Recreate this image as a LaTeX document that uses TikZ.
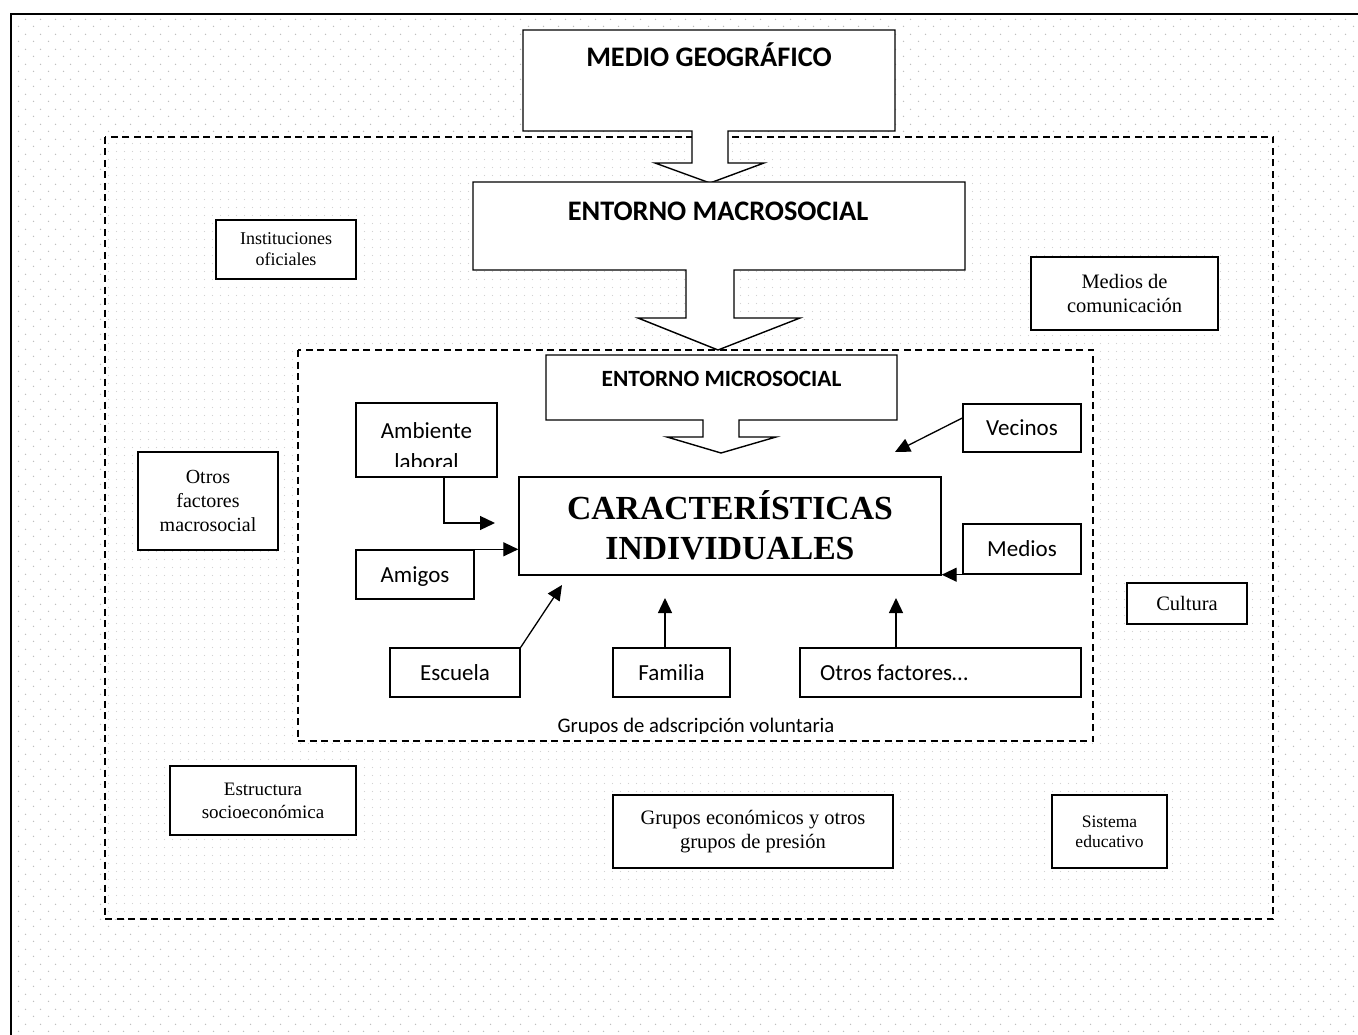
\documentclass[tikz,border=0pt]{standalone}
\usepackage{fontspec}
\setmainfont{Liberation Serif}
\newfontfamily\calibri{Carlito}
\usetikzlibrary{arrows.meta,patterns}
\pgfdeclarepatternformonly{outerdots}{\pgfpointorigin}{\pgfqpoint{15pt}{15pt}}{\pgfqpoint{15pt}{15pt}}{%
  \pgfpathcircle{\pgfqpoint{3.75pt}{3.75pt}}{0.8pt}%
  \pgfpathcircle{\pgfqpoint{11.25pt}{11.25pt}}{0.8pt}%
  \pgfusepath{fill}}
\pgfdeclarepatternformonly{innerdots}{\pgfpointorigin}{\pgfqpoint{7.5pt}{7.5pt}}{\pgfqpoint{7.5pt}{7.5pt}}{%
  \pgfpathcircle{\pgfqpoint{3.75pt}{3.75pt}}{0.6pt}%
  \pgfusepath{fill}}
\begin{document}
\begin{tikzpicture}[x=1pt,y=-1pt,
  bx/.style={draw, fill=white, line width=1.4pt, inner sep=0pt, align=center},
  sans/.style={font=\calibri\fontsize{23}{28}\selectfont},
  sansone/.style={sans, text height=15pt, text depth=0pt},
  serif/.style={font=\fontsize{20.5}{23.5}\selectfont},
  arr/.style={line width=1.3pt, -{Triangle[length=15pt,width=14pt]}},
  dashbox/.style={line width=1.6pt, dash pattern=on 7pt off 4.5pt},
  callout/.style={draw, fill=white, line width=1.4pt, line join=miter},
  bigcap/.style={font=\calibri\bfseries\fontsize{28.3}{34}\selectfont, anchor=base},
]
\useasboundingbox (0,0) rectangle (1358,1035);
\fill[white] (0,0) rectangle (1358,1035);
\fill[pattern=outerdots, pattern color=gray!50] (11,14) rectangle (1358,1035);
\fill[white] (105,137) rectangle (1273,919);
\fill[pattern=innerdots, pattern color=gray!35] (105,137) rectangle (1273,919);
\draw[line width=2.2pt] (11,1035) -- (11,14) -- (1358,14);
\draw[dashbox] (105,137) rectangle (1273,919);
\filldraw[fill=white, dashbox] (298,350) rectangle (1093,741);

% callout shapes
\draw[callout] (523,30) -- (895,30) -- (895,131) -- (728,131) -- (728,163) -- (764,163) -- (710,183) -- (655,163) -- (692,163) -- (692,131) -- (523,131) -- cycle;
\node[bigcap] (medio) at (709,66.5) {MEDIO GEOGRÁFICO};

\draw[callout] (473,182) -- (965,182) -- (965,270) -- (734,270) -- (734,318) -- (800,318) -- (718,350) -- (638,318) -- (686,318) -- (686,270) -- (473,270) -- cycle;
\node[bigcap] (macro) at (718,221) {ENTORNO MACROSOCIAL};

\draw[callout] (546,355) -- (897,355) -- (897,420) -- (739,420) -- (739,437) -- (776,437) -- (721,453) -- (667,437) -- (703,437) -- (703,420) -- (546,420) -- cycle;
\node[font=\calibri\bfseries\fontsize{23.3}{28}\selectfont, anchor=base] (micro) at (721.5,386.7) {ENTORNO MICROSOCIAL};

% macrosocial boxes (serif)
\node[bx, serif, font=\fontsize{18}{21}\selectfont, minimum width=140, minimum height=59] (inst) at (286,249.5) {Instituciones\\oficiales};
\node[bx, serif, font=\fontsize{20}{23.7}\selectfont, minimum width=140, minimum height=98] (otrosmac) at (208,501) {Otros\\factores\\macrosocial};
\node[bx, serif, minimum width=187, minimum height=73] (medcom) at (1124.5,293.5) {Medios de\\comunicación};
\node[bx, serif, minimum width=120, minimum height=41] (cultura) at (1187,603.5) {Cultura};
\node[bx, serif, font=\fontsize{19}{23}\selectfont, minimum width=186, minimum height=69] (estr) at (263,800.5) {Estructura\\socioeconómica};
\node[bx, serif, font=\fontsize{20.5}{24}\selectfont, minimum width=280, minimum height=73] (grupos) at (753,831.5) {Grupos económicos y otros\\grupos de presión};
\node[bx, serif, font=\fontsize{17.5}{20}\selectfont, minimum width=115, minimum height=73] (sistema) at (1109.5,831.5) {Sistema\\educativo};

% central box
\node[bx, minimum width=422, minimum height=98] (car) at (730,526) {};
\node[font=\bfseries\fontsize{33.7}{40}\selectfont, anchor=base] (car1) at (730,519) {CARACTERÍSTICAS};
\node[font=\bfseries\fontsize{33.7}{40}\selectfont, anchor=base] (car2) at (730,559) {INDIVIDUALES};

% microsocial boxes (sans)
\node[bx, minimum width=141, minimum height=74] (amb) at (426.5,440) {};
\node[sans, anchor=base] (amb1) at (426.5,438) {Ambiente};
\begin{scope}
  \clip (357,441) rectangle (496,466);
  \node[sans, anchor=base] (amb2) at (426.5,469) {laboral};
\end{scope}
\node[bx, sansone, minimum width=118, minimum height=49] (amigos) at (415,574.5) {Amigos};
\node[bx, sansone, minimum width=118, minimum height=48] (vecinos) at (1022,428) {Vecinos};
\node[bx, sansone, minimum width=118, minimum height=50] (medios) at (1022,549) {Medios};
\node[bx, sansone, minimum width=130, minimum height=49] (escuela) at (455,672.5) {Escuela};
\node[bx, sansone, minimum width=117, minimum height=49] (familia) at (671.5,672.5) {Familia};
\node[bx, minimum width=281, minimum height=49] (otrosf) at (940.5,672.5) {};
\node[sans, anchor=base west, inner sep=0pt] (otrosft) at (820,680) {Otros factores…};

\begin{scope}
  \clip (300,700) rectangle (1090,733);
  \node[font=\calibri\fontsize{20.7}{25}\selectfont, anchor=base] (volunt) at (696,732) {Grupos de adscripción voluntaria};
\end{scope}

% connectors
\coordinate (ambtip) at (495,523);
\coordinate (vectip) at (895,452);
\coordinate (esctip) at (562,585);
\coordinate (famtip) at (665,598);
\coordinate (otrtip) at (896,598);
\draw[arr] ([xshift=17.5pt]amb.south) |- (ambtip);
\draw[arr] (amigos.north east) -- (amigos.north east -| car.west);
\draw[arr] ([yshift=10pt]vecinos.west) -- (vectip);
\draw[arr] (medios.south west) -- (medios.south west -| car.east);
\draw[arr] (escuela.north east) -- (esctip);
\draw[arr] (familia.north -| famtip) -- (famtip);
\draw[arr] (otrosf.north -| otrtip) -- (otrtip);
\end{tikzpicture}
\end{document}
